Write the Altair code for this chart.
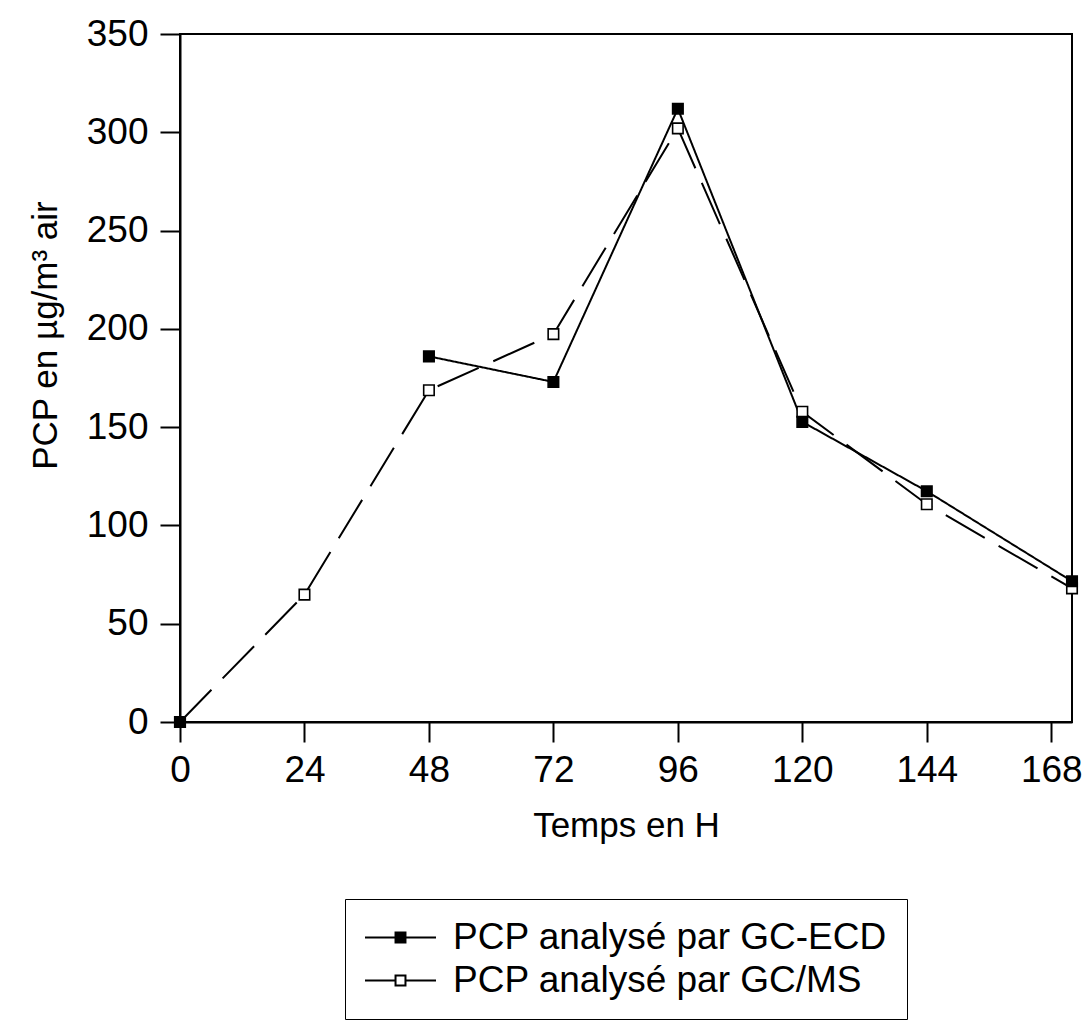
import altair as alt
import pandas as pd

hours = [0, 24, 48, 72, 96, 120, 144, 172]
ecd = [0, None, 186, 173, 312, 152.7, 117.4, 71.6]
ms = [0, 64.8, 168.8, 197.3, 302, 157.8, 110.8, 68]
series_names = ["PCP analysé par GC-ECD", "PCP analysé par GC/MS"]
series_keys = ["ECD", "MS"]
x_ticks = [0, 24, 48, 72, 96, 120, 144, 168]
y_ticks = [0, 50, 100, 150, 200, 250, 300, 350]

rows = []
for h, v in zip(hours, ms):
    rows.append({"t": h, "v": v, "s": series_names[1], "k": series_keys[1]})
for h, v in zip(hours, ecd):
    rows.append({"t": h, "v": v, "s": series_names[0], "k": series_keys[0]})
df = pd.DataFrame(rows)

FONT = "Liberation Sans"

x = alt.X("t:Q", scale=alt.Scale(domain=[0, 172], nice=False, zero=False),
          axis=alt.Axis(values=x_ticks, title="Temps en H", labelFlush=False,
                        labelOverlap=False, labelPadding=10, titleY=103,
                        titleBaseline="middle"))
y = alt.Y("v:Q", scale=alt.Scale(domain=[0, 350], nice=False),
          axis=alt.Axis(values=y_ticks, title="PCP en µg/m³ air", labelPadding=12,
                        titleX=-135, titleY=301, titleAngle=270,
                        titleBaseline="middle", titleAlign="center"))

lines = alt.Chart(df).mark_line(color="black", strokeWidth=2,
                                invalid="break-paths-filter-domains").encode(
    x=x, y=y,
    strokeDash=alt.StrokeDash("k:N", scale=alt.Scale(domain=series_keys,
                                                     range=[[1, 0], [45, 16]]),
                              legend=None),
    detail="k:N",
)

SYM = 17.75
sym = "M-4,0H-0.56M0.56,0H4M-0.56,-0.56H0.56V0.56H-0.56Z"
points = alt.Chart(df).mark_point(shape="square", filled=True, size=110,
                                  stroke="black", strokeWidth=1.6, opacity=1).encode(
    x=x, y=y,
    fill=alt.Fill("s:N", scale=alt.Scale(domain=series_names, range=["black", "white"]),
                  legend=alt.Legend(title=None, orient="none", legendX=165, legendY=865,
                                    symbolType=sym, symbolSize=SYM * SYM,
                                    symbolOffset=17, labelOffset=34,
                                    symbolStrokeColor="black", symbolStrokeWidth=2,
                                    symbolOpacity=1,
                                    labelFontSize=37, labelFont=FONT, labelColor="black",
                                    strokeColor="black", padding=20, rowPadding=5,
                                    labelLimit=2000)),
).transform_filter("isValid(datum.v)")

chart = alt.layer(lines, points).properties(
    width=892, height=688,
    autosize=alt.AutoSizeParams(type="none"),
    padding={"left": 172, "top": 26, "right": 12, "bottom": 302},
).configure_view(stroke="black", strokeWidth=2).configure_axis(
    grid=False, domainColor="black", domainWidth=2, tickColor="black", tickWidth=2,
    tickSize=20, labelFont=FONT, labelFontSize=37, labelColor="black",
    titleFont=FONT, titleFontSize=35, titleFontWeight="normal", titleColor="black",
)

chart.save("out.html", embed_options={"renderer": "svg", "actions": False})
